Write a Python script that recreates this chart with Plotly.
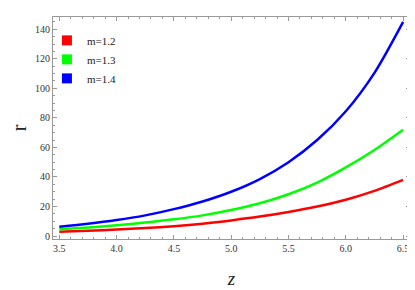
import plotly.graph_objects as go

z = [3.5, 3.75, 4.0, 4.25, 4.5, 4.75, 5.0, 5.25, 5.5, 5.75, 6.0, 6.25, 6.5]
r_m12 = [2.9, 3.6, 4.4, 5.4, 6.7, 8.4, 10.6, 13.2, 16.3, 20.0, 24.6, 30.6, 38.0]
r_m13 = [4.6, 5.8, 7.3, 9.1, 11.3, 14.0, 17.6, 22.2, 28.3, 36.2, 46.5, 58.3, 72.0]
r_m14 = [6.3, 8.3, 10.8, 14.0, 18.2, 23.4, 30.0, 38.6, 50.0, 65.0, 84.5, 110.5, 145.0]
names = ["m=1.2", "m=1.3", "m=1.4"]
colors = ["#ff0000", "#00ff00", "#0000ff"]
series = [r_m12, r_m13, r_m14]

fig = go.Figure()
for ys, c in zip(series, colors):
    fig.add_trace(go.Scatter(x=z, y=ys, mode="lines", line=dict(color=c, width=2.5, shape="spline", smoothing=0.8),
                             showlegend=False))
for n, c in zip(names, colors):
    fig.add_trace(go.Scatter(x=[None], y=[None], mode="markers", name=n,
                             marker=dict(symbol="square", size=10, color=c)))

axcommon = dict(showline=True, linecolor="#999999", linewidth=1, mirror="ticks", automargin=False,
                ticks="inside", tickcolor="#999999", ticklen=4, showgrid=False, zeroline=False,
                tickfont=dict(family="Liberation Serif", size=10, color="#333333"))
fig.update_xaxes(range=[3.445, 6.56], tickvals=[3.5, 4.0, 4.5, 5.0, 5.5, 6.0, 6.5],
                 ticktext=["3.5", "4.0", "4.5", "5.0", "5.5", "6.0", "6.5"],
                 minor=dict(dtick=0.1, ticks="inside", ticklen=2, tickcolor="#999999"),
                 title=dict(text="<i>z</i>", font=dict(family="Liberation Serif", size=19, color="#222222"), standoff=18),
                 **axcommon)
fig.update_yaxes(range=[-2, 148.3], tickvals=[0, 20, 40, 60, 80, 100, 120, 140],
                 minor=dict(dtick=5, ticks="inside", ticklen=2, tickcolor="#999999"),
                 title=dict(text="r", font=dict(family="Liberation Serif", size=20, color="#222222"), standoff=14),
                 **axcommon)
# page body has an 8px default margin: figure is sized/offset to fill the 415x290 window exactly
fig.update_layout(width=407, height=282, margin=dict(l=45, r=5, t=9, b=51),
                  paper_bgcolor="white", plot_bgcolor="white",
                  legend=dict(x=-0.017, y=0.96, xanchor="left", yanchor="top", bgcolor="rgba(0,0,0,0)",
                              font=dict(family="Liberation Serif", size=11, color="#222222"),
                              tracegroupgap=4))
fig.write_html("out.html")
